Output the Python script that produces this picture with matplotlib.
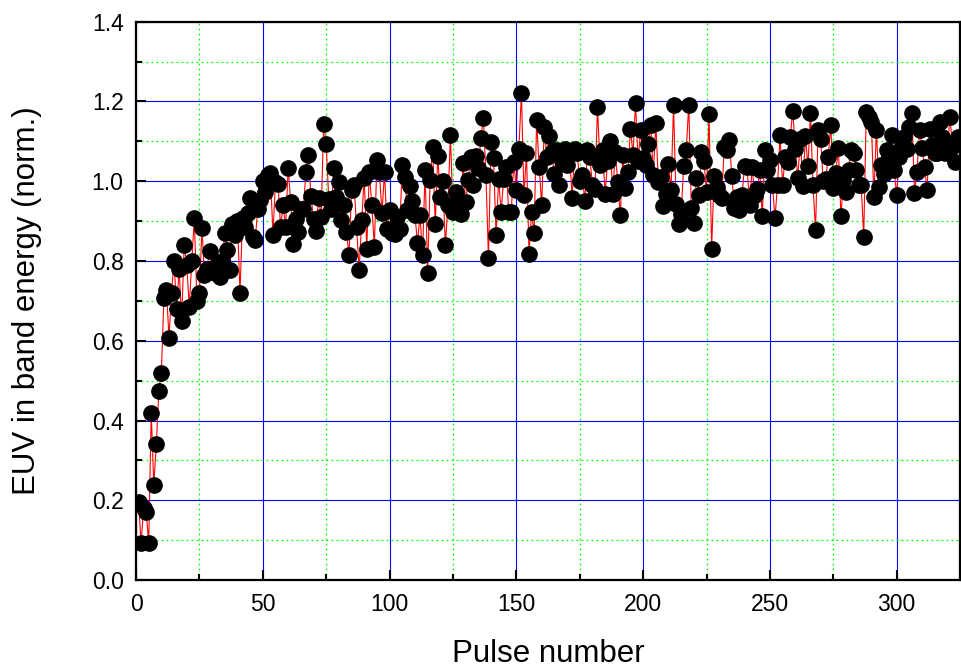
import numpy as np
import matplotlib.pyplot as plt
from matplotlib.ticker import MultipleLocator

# EUV in-band energy (normalised) for each pulse
energy = [
    0.196, 0.093, 0.18, 0.17, 0.093, 0.42, 0.238, 0.34, 0.475, 0.52,
    0.708, 0.727, 0.608, 0.72, 0.80, 0.68, 0.78, 0.65, 0.84, 0.79,
    0.685, 0.80, 0.908, 0.70, 0.72, 0.883, 0.764, 0.78, 0.825, 0.78,
    0.77, 0.79, 0.76, 0.80, 0.87, 0.827, 0.777, 0.894, 0.865, 0.90,
    0.72, 0.907, 0.885, 0.92, 0.957, 0.86, 0.852, 0.93, 0.952, 1.0,
    0.973, 1.015, 1.02, 0.866, 0.998, 0.994, 0.885, 0.94, 0.885, 1.034,
    0.948, 0.842, 0.906, 0.873, 0.93, 0.931, 1.023, 1.067, 0.962, 0.906,
    0.875, 0.959, 0.91, 1.144, 1.093, 0.956, 0.93, 1.032, 0.96, 0.998,
    0.902, 0.94, 0.873, 0.814, 0.977, 0.99, 0.885, 0.777, 0.902, 1.009,
    0.831, 1.023, 0.94, 0.835, 1.053, 1.023, 0.92, 1.023, 0.881, 0.929,
    0.87, 0.868, 0.91, 0.88, 1.04, 1.011, 0.927, 0.988, 0.95, 0.915,
    0.846, 0.915, 0.814, 1.027, 0.77, 1.002, 1.086, 0.892, 1.063, 0.96,
    1.0, 0.839, 0.94, 1.117, 0.923, 0.973, 0.95, 0.917, 1.046, 0.948,
    1.002, 1.061, 0.99, 1.063, 1.032, 1.109, 1.159, 1.015, 0.808, 1.098,
    1.057, 0.864, 1.006, 0.923, 1.006, 1.035, 0.923, 0.923, 1.048, 0.979,
    1.082, 1.222, 0.965, 1.07, 0.817, 0.923, 0.871, 1.153, 1.035, 0.94,
    1.136, 1.061, 1.114, 1.073, 1.017, 1.079, 0.99, 1.05, 1.082, 1.04,
    1.07, 0.958, 1.082, 1.07, 1.0, 1.015, 0.95, 1.078, 1.06, 0.99,
    0.98, 1.186, 1.04, 1.078, 0.969, 1.05, 1.101, 0.967, 1.073, 0.998,
    0.915, 1.065, 0.982, 1.023, 1.132, 1.065, 1.197, 1.05, 1.128, 1.057,
    1.04, 1.094, 1.142, 1.015, 1.145, 0.998, 1.011, 0.938, 0.969, 1.042,
    0.978, 1.192, 0.944, 0.892, 0.919, 1.038, 1.079, 1.192, 0.932, 0.896,
    1.009, 0.966, 1.073, 1.05, 0.973, 1.169, 0.83, 1.012, 0.986, 0.965,
    0.957, 1.086, 1.078, 1.103, 1.012, 0.932, 0.961, 0.928, 0.965, 1.037,
    1.035, 0.94, 1.035, 0.965, 0.98, 1.027, 0.912, 1.078, 1.027, 1.053,
    0.99, 0.908, 0.99, 1.115, 0.99, 1.061, 1.048, 1.11, 1.176, 1.082,
    1.009, 1.107, 0.988, 1.114, 1.037, 1.171, 0.99, 0.877, 1.128, 1.107,
    1.0, 1.006, 1.061, 1.142, 0.982, 1.02, 1.084, 0.913, 1.002, 0.973,
    1.027, 1.078, 1.07, 1.027, 0.99, 0.99, 0.861, 1.174, 1.16, 1.149,
    0.961, 1.128, 0.986, 1.04, 1.019, 1.078, 1.061, 1.115, 1.027, 0.965,
    1.06, 1.09, 1.11, 1.08, 1.136, 1.171, 0.971, 1.023, 1.128, 1.084,
    1.035, 0.978, 1.132, 1.09, 1.07, 1.07, 1.149, 1.111, 1.07, 1.08,
    1.161, 1.086, 1.048, 1.111, 1.10,
]
pulse = np.arange(1, len(energy) + 1)

plt.rcParams['font.family'] = ['Liberation Sans', 'DejaVu Sans']

fig = plt.figure(figsize=(9.62, 6.68), dpi=100)
ax = fig.add_axes([0.1414, 0.1317, 0.8566, 0.8358])

ax.plot(pulse, energy, color='red', lw=0.8, zorder=3)
ax.plot(pulse, energy, 'o', color='black', ms=11, zorder=4)

ax.set_xlim(0, 325)
ax.set_ylim(0, 1.4)
ax.xaxis.set_major_locator(MultipleLocator(50))
ax.xaxis.set_minor_locator(MultipleLocator(25))
ax.yaxis.set_major_locator(MultipleLocator(0.2))
ax.yaxis.set_minor_locator(MultipleLocator(0.1))
ax.yaxis.set_major_formatter(plt.FormatStrFormatter('%.1f'))

# grid: blue solid major, green dotted minor
ax.grid(which='major', color='#0000ff', lw=0.8, ls='-', zorder=0)
ax.grid(which='minor', color='#00ff00', lw=0.9, ls=(0, (1.5, 2.5)), zorder=0)
ax.set_axisbelow(True)

ax.tick_params(which='both', direction='in', top=False, right=False,
               width=1.5, labelsize=16.5, pad=9)
ax.tick_params(which='major', length=7)
ax.tick_params(which='minor', length=4)
for s in ax.spines.values():
    s.set_linewidth(1.6)

ax.set_xlabel('Pulse number', fontsize=22.5, labelpad=17)
ax.set_ylabel('EUV in band energy (norm.)', fontsize=22.5, labelpad=36)

fig.savefig('out.png', dpi=100)
